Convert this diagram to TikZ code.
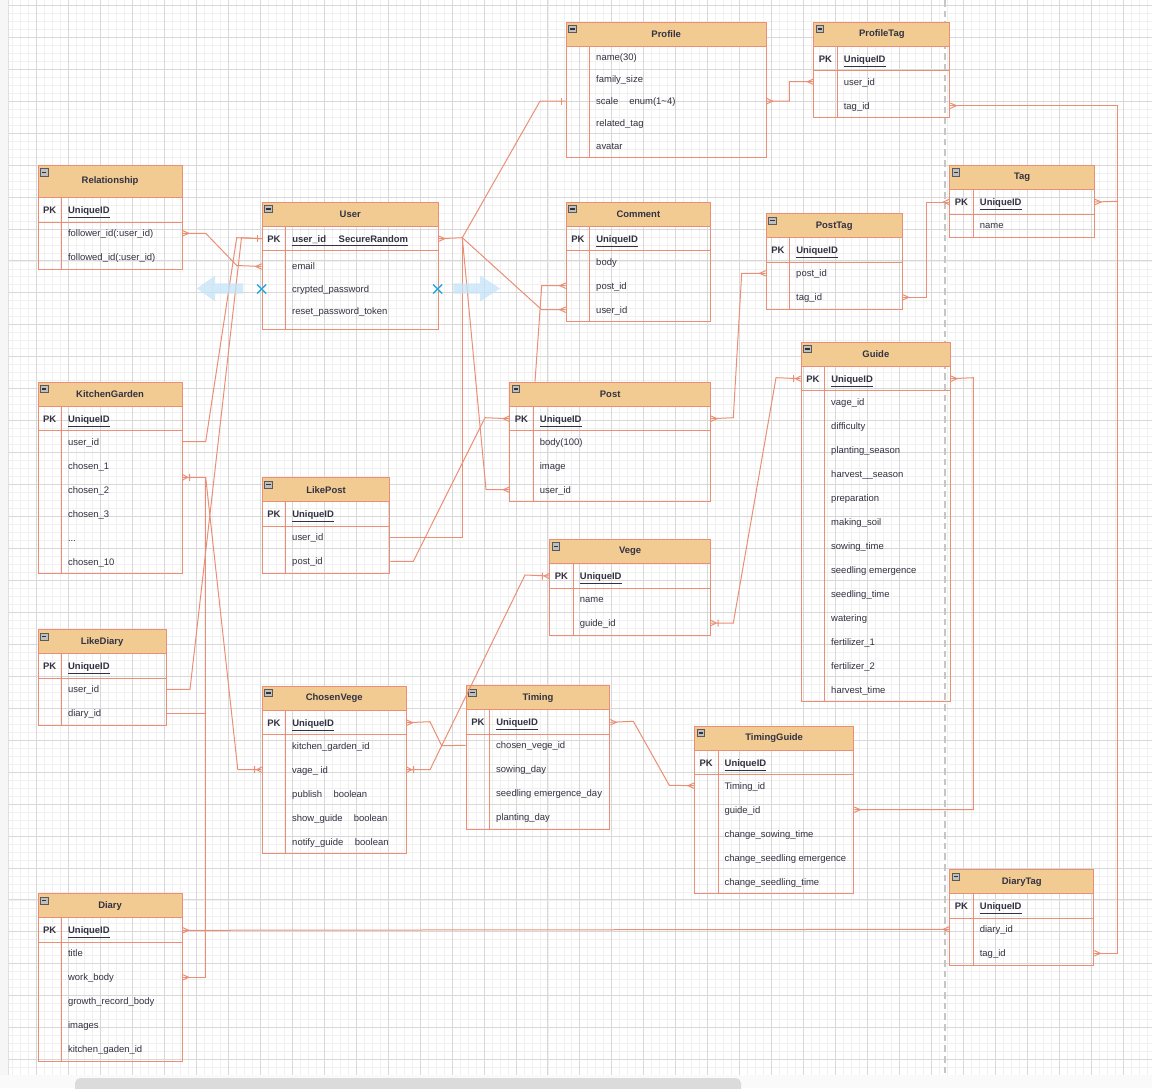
\documentclass[tikz,border=0pt]{standalone}
\usepackage{fontspec}
\setmainfont{Liberation Sans}
\definecolor{erline}{RGB}{234,143,118}
\definecolor{erhead}{RGB}{242,203,146}
\definecolor{ertext}{RGB}{50,50,66}
\definecolor{gridmaj}{RGB}{216,216,216}
\definecolor{gridmin}{RGB}{240,240,240}
\definecolor{dragblue}{RGB}{196,228,248}
\definecolor{selblue}{RGB}{38,168,226}
\newcommand\erfont{\fontsize{7.1pt}{8.5pt}\selectfont}

\begin{document}
\begin{tikzpicture}[x=0.75pt, y=-0.75pt,
  font=\erfont,
  tblbox/.style={draw=erline, line width=0.75pt, anchor=north west, inner sep=0pt},
  hdr/.style={tblbox, fill=erhead, font=\erfont\bfseries, text=ertext},
  fold/.style={draw=gray!70!black, fill=gray!50, line width=0.4pt, anchor=north west, minimum size=5.6pt, inner sep=0pt,
    path picture={\draw[black!80, line width=0.9pt] ([xshift=1.2pt]path picture bounding box.west) -- ([xshift=-1.2pt]path picture bounding box.east);}},
  pkrow/.style={anchor=west, inner sep=0pt, xshift=4pt, text=ertext, font=\erfont\bfseries, text height=5.1pt, text depth=0pt},
  fld/.style={anchor=west, inner sep=0pt, xshift=22.7pt, text=ertext, text height=5.1pt, text depth=0pt},
  tblline/.style={draw=erline, line width=0.75pt},
  rel/.style={draw=erline, line width=0.75pt},
  gridminor/.style={draw=gridmin, line width=0.5pt},
  gridmajor/.style={draw=gridmaj, line width=0.55pt},
  pagebreak/.style={draw=gray!45, line width=1.4pt, dash pattern=on 5pt off 3pt},
  dragarrow/.style={fill=dragblue, fill opacity=0.75},
  selmark/.style={draw=selblue, line width=1.1pt},
  manyE/.pic={\draw[rel] (0,-2.7) -- (6,0) -- (0,2.7);},
  manyW/.pic={\draw[rel] (0,-2.7) -- (-6,0) -- (0,2.7);},
  oneW/.pic={\draw[rel] (-4,-3.5) -- (-4,3.5);},
  onemanyE/.pic={\draw[rel] (0,-2.7) -- (5,0) -- (0,2.7) (7,-3.5) -- (7,3.5);},
  onemanyW/.pic={\draw[rel] (0,-2.7) -- (-5,0) -- (0,2.7) (-7,-3.5) -- (-7,3.5);}]

\useasboundingbox (0,0) rectangle (1152,1088);
\clip (0,0) rectangle (1152,1088);
\fill[white] (0,0) rectangle (1152,1088);

% background grid
\foreach \i in {0,...,143} \draw[gridminor] ({4.7+7.9875*\i},0) -- ++(0,1075);
\foreach \i in {0,...,134} \draw[gridminor] (8,{5.25+7.9875*\i}) -- ++(1144,0);
\foreach \i in {0,...,35} \draw[gridmajor] ({4.7+31.95*\i},0) -- ++(0,1075);
\foreach \i in {0,...,33} \draw[gridmajor] (8,{5.25+31.95*\i}) -- ++(1144,0);
\fill[gray!7] (0,0) rectangle (8,1088);
\draw[gray!25] (8,0) -- (8,1075);
\fill[gray!4] (0,1075) rectangle (1152,1088);
\fill[gray!28, rounded corners=4pt] (75,1078) rectangle (741,1094);
\draw[pagebreak] (945,0) -- (945,1075);

% tables: frame, header, fold icon, key column
\foreach \nm/\xl/\yt/\ww/\yb/\hh/\ttl in {
  relationship/37.5/165/144.2/269.3/32/Relationship,
  user/261.7/201.7/176/329/24/User,
  profile/565.7/21.7/200/156.7/24/Profile,
  profiletag/813.3/21.7/136/117.3/24/ProfileTag,
  comment/565.7/201.7/144.3/321.3/24/Comment,
  posttag/765.7/213.3/136/309.3/24/PostTag,
  tag/949.3/165/144.7/237.3/24/Tag,
  kitchengarden/37.5/381.7/144.2/573.3/24/KitchenGarden,
  likepost/261.7/477.3/127.6/573.3/24/LikePost,
  post/509.3/381.7/200.7/501.3/24/Post,
  vege/549.3/539/160.7/635/24/Vege,
  guide/800.7/341.7/149.3/701/24/Guide,
  likediary/37.5/629.3/128.2/725.3/24/LikeDiary,
  chosenvege/261.7/685.7/144/853.3/24/ChosenVege,
  timing/465.7/685.3/143.6/829.3/24/Timing,
  timingguide/694/725.7/159.3/893.3/24/TimingGuide,
  diary/37.5/893.3/144.2/1061.3/24/Diary,
  diarytag/949.3/869.3/144/965.3/24/DiaryTag}
{
  \node[tblbox, minimum width=\ww*0.75pt, minimum height={(\yb-\yt)*0.75pt}] (\nm) at (\xl,\yt) {};
  \node[hdr, minimum width=\ww*0.75pt, minimum height=\hh*0.75pt] (\nm-h) at (\xl,\yt) {\ttl};
  \node[fold] (\nm-m) at (\xl+2.7,\yt+3.3) {};
  \draw[tblline] (\xl+24,\yt+\hh) -- (\xl+24,\yb);
}

% primary key rows
\foreach \nm/\key in {relationship/UniqueID, user/{user\_id\hspace{9.5pt}SecureRandom},
  profiletag/UniqueID, comment/UniqueID, posttag/UniqueID, tag/UniqueID,
  kitchengarden/UniqueID, likepost/UniqueID, post/UniqueID, vege/UniqueID,
  guide/UniqueID, likediary/UniqueID, chosenvege/UniqueID, timing/UniqueID,
  timingguide/UniqueID, diary/UniqueID, diarytag/UniqueID}
{
  \node[pkrow] (\nm-pk) at ([yshift=-9pt]\nm-h.south west) {\makebox[18.8pt][l]{PK}\underline{\key}};
  \draw[tblline] ([yshift=-18pt]\nm-h.south west) -- ([yshift=-18pt]\nm-h.south east);
}

% fields
\foreach \nm/\base/\step/\fields in {
  relationship/209.3/24/{follower\_id(:user\_id),followed\_id(:user\_id)},
  user/244/22.5/{email,crypted\_password,reset\_password\_token},
  profile/34.4/22.25/{name(30),family\_size,scale\hspace{8.3pt}enum(1\textasciitilde 4),related\_tag,avatar},
  profiletag/57.7/24/{user\_id,tag\_id},
  comment/237.7/24/{body,post\_id,user\_id},
  posttag/249.3/24/{post\_id,tag\_id},
  tag/201.3/24/{name},
  kitchengarden/417.7/24/{user\_id,chosen\_1,chosen\_2,chosen\_3,.{}.{}.,chosen\_10},
  likepost/513.3/24/{user\_id,post\_id},
  post/417.7/24/{body(100),image,user\_id},
  vege/575/24/{name,guide\_id},
  guide/377.7/24/{vage\_id,difficulty,planting\_season,harvest\_\_season,preparation,making\_soil,sowing\_time,seedling emergence,seedling\_time,watering,fertilizer\_1,fertilizer\_2,harvest\_time},
  likediary/665.3/24/{user\_id,diary\_id},
  chosenvege/721.7/24/{kitchen\_garden\_id,vage\_ id,publish\hspace{8.5pt}boolean,show\_guide\hspace{8.3pt}boolean,notify\_guide\hspace{8.7pt}boolean},
  timing/721.3/24/{chosen\_vege\_id,sowing\_day,seedling emergence\_day,planting\_day},
  timingguide/761.7/24/{Timing\_id,guide\_id,change\_sowing\_time,change\_seedling emergence,change\_seedling\_time},
  diary/929.3/24/{title,work\_body,growth\_record\_body,images,kitchen\_gaden\_id},
  diarytag/905.3/24/{diary\_id,tag\_id}}
{
  \foreach \f [count=\i] in \fields
    \node[fld] (\nm-\i) at (\nm.west |- 0,\base+\step*\i) {\f};
}

% relations
\draw[rel] (relationship.east |- relationship-1) -- (205.7,233.3) -- (236.7,265.5) -- (user.west |- user-1);
\draw[rel] (kitchengarden.east |- kitchengarden-1) -- (205.7,441.7) -- (236.7,237.7) -- (user.west |- user-pk);
\draw[rel] (likediary.east |- likediary-1) -- (190,689.3) -- (241.5,237.7) -- (user.west |- user-pk);
\draw[rel] (user.east |- user-pk) -- (462.3,237.7) coordinate (hub) -- (540,101.2) -- (profile.west |- profile-3);
\draw[rel] (hub) -- (541.7,309.7) -- (comment.west |- comment-3);
\draw[rel] (hub) -- (486,489.7) -- (post.west |- post-3);
\draw[rel] (hub) |- (likepost.east |- likepost-1);
\draw[rel] (likepost.east |- likepost-2) -- (413.3,561.3) -- (485,417.7) -- (post.west |- post-pk);
\draw[rel] (post.north -| 535,0) -- (541.7,285.7) -- (comment.west |- comment-2);
\draw[rel] (profile.east |- profile-3) -- (789.3,101.2) |- (profiletag.west |- profiletag-1);
\draw[rel] (profiletag.east |- profiletag-2) -- (1117.3,105.7) |- (diarytag.east |- diarytag-2);
\draw[rel] (tag.east |- tag-pk) -- (1117.3,201.3);
\draw[rel] (posttag.east |- posttag-2) -- (926,297.3) |- (tag.west |- tag-pk);
\draw[rel] (post.east |- post-pk) -- (733.3,417.7) -- (741.7,273.3) -- (posttag.west |- posttag-1);
\draw[rel] (vege.east |- vege-2) -- (733.3,623) -- (776,377.7) -- (guide.west |- guide-pk);
\draw[rel] (guide.east |- guide-pk) -- (973.3,377.7) |- (timingguide.east |- timingguide-2);
\draw[rel] (timing.east |- timing-pk) -- (633.3,721.3) -- (669.3,785.3) -- (timingguide.west |- timingguide-1);
\draw[rel] (chosenvege.east |- chosenvege-pk) -- (430,721.7) -- (441.7,745.7) -- (timing.west |- timing-1);
\draw[rel] (chosenvege.east |- chosenvege-2) -- (430,769.7) -- (525,575) -- (vege.west |- vege-pk);
\coordinate (kg-out) at (kitchengarden.east |- 0,477.3);
\draw[rel] (kg-out) -- (205.7,477.3) coordinate (kg-bend) -- (237.8,769.7) -- (chosenvege.west |- chosenvege-2);
\draw[rel] (kg-bend) |- (diary.east |- diary-2);
\draw[rel] (likediary.east |- likediary-2) -- (kg-bend |- likediary-2);
\draw[rel] (diary.east |- diary-pk) -- (diarytag.west |- diarytag-1);

% end marks
\pic at (relationship.east |- relationship-1) {manyE};
\pic at (user.west |- user-1) {manyW};
\pic at (user.west |- user-pk) {oneW};
\pic at (user.east |- user-pk) {manyE};
\pic at (profile.west |- profile-3) {oneW};
\pic at (comment.west |- comment-3) {manyW};
\pic at (comment.west |- comment-2) {manyW};
\pic at (post.west |- post-3) {manyW};
\pic at (post.west |- post-pk) {manyW};
\pic at (profile.east |- profile-3) {manyE};
\pic at (profiletag.west |- profiletag-1) {manyW};
\pic at (profiletag.east |- profiletag-2) {manyE};
\pic at (tag.east |- tag-pk) {manyE};
\pic at (tag.west |- tag-pk) {manyW};
\pic at (diarytag.east |- diarytag-2) {manyE};
\pic at (posttag.east |- posttag-2) {manyE};
\pic at (post.east |- post-pk) {manyE};
\pic at (posttag.west |- posttag-1) {manyW};
\pic at (vege.east |- vege-2) {onemanyE};
\pic at (guide.west |- guide-pk) {onemanyW};
\pic at (guide.east |- guide-pk) {manyE};
\pic at (timingguide.east |- timingguide-2) {manyE};
\pic at (timing.east |- timing-pk) {manyE};
\pic at (timingguide.west |- timingguide-1) {manyW};
\pic at (chosenvege.east |- chosenvege-pk) {manyE};
\pic at (chosenvege.east |- chosenvege-2) {onemanyE};
\pic at (vege.west |- vege-pk) {onemanyW};
\pic at (kg-out) {onemanyE};
\pic at (chosenvege.west |- chosenvege-2) {onemanyW};
\pic at (diary.east |- diary-2) {manyE};
\pic at (diary.east |- diary-pk) {manyE};
\pic at (diarytag.west |- diarytag-1) {manyW};

% selection handles round User
\fill[dragarrow] (243,283.3) -- (215,283.3) -- (215,275.5) -- (197,288.5) -- (215,301.5) -- (215,293.5) -- (243,293.5) -- cycle;
\fill[dragarrow] (453.3,283.3) -- (480,283.3) -- (480,275.5) -- (500,288.5) -- (480,301.5) -- (480,293.5) -- (453.3,293.5) -- cycle;
\draw[selmark] (261.7,289) +(-4.5,-4.5) -- +(4.5,4.5) +(-4.5,4.5) -- +(4.5,-4.5);
\draw[selmark] (437.7,289) +(-4.5,-4.5) -- +(4.5,4.5) +(-4.5,4.5) -- +(4.5,-4.5);
\end{tikzpicture}
\end{document}
